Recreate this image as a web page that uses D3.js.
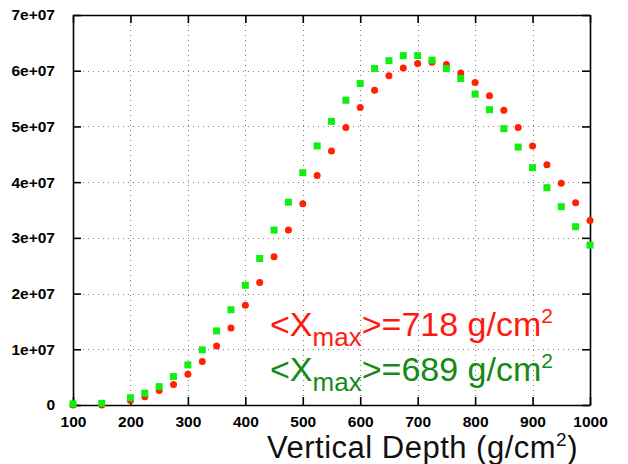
<!DOCTYPE html>
<html>
<head>
<meta charset="utf-8">
<script src="https://cdn.jsdelivr.net/npm/d3@7"></script>
<style>
  html, body { margin: 0; padding: 0; background: #fff; }
  svg { display: block; }
</style>
</head>
<body>
<svg id="chart" width="628" height="464"></svg>
<script>
// ---- data ----
const depths = [100, 150, 200, 225, 250, 275, 300, 325, 350, 375, 400, 425, 450, 475, 500,
  525, 550, 575, 600, 625, 650, 675, 700, 725, 750, 775, 800, 825, 850, 875, 900, 925, 950, 975, 1000];
const redValues = [0, 0, 0.8e6, 1.5e6, 2.6e6, 3.7e6, 5.5e6, 7.8e6, 10.6e6, 13.8e6, 17.9e6, 22.0e6, 26.6e6, 31.4e6, 36.1e6,
  41.2e6, 45.6e6, 49.8e6, 53.4e6, 56.5e6, 59.1e6, 60.5e6, 61.3e6, 61.5e6, 61.1e6, 59.6e6, 57.9e6, 55.5e6, 52.9e6, 49.8e6, 46.5e6, 43.1e6, 39.8e6, 36.3e6, 33.1e6];
const greenValues = [0.2e6, 0.3e6, 1.3e6, 2.1e6, 3.3e6, 5.1e6, 7.2e6, 9.9e6, 13.3e6, 17.1e6, 21.5e6, 26.3e6, 31.4e6, 36.4e6, 41.7e6,
  46.5e6, 50.9e6, 54.7e6, 57.7e6, 60.4e6, 61.8e6, 62.7e6, 62.7e6, 61.9e6, 60.4e6, 58.6e6, 55.8e6, 53.0e6, 49.6e6, 46.3e6, 42.6e6, 39.0e6, 35.6e6, 32.0e6, 28.7e6];
const xTicks = [100, 200, 300, 400, 500, 600, 700, 800, 900, 1000];
const yTicks = [0, 1e7, 2e7, 3e7, 4e7, 5e7, 6e7, 7e7];
const yTickLabels = ["0", "1e+07", "2e+07", "3e+07", "4e+07", "5e+07", "6e+07", "7e+07"];
const redLabel = {pre: "<X", sub: "max", post: ">=718 g/cm", sup: "2"};
const greenLabel = {pre: "<X", sub: "max", post: ">=689 g/cm", sup: "2"};
const xTitle = {main: "Vertical Depth (g/cm", sup: "2", end: ")"};

// ---- layout ----
const svg = d3.select("#chart");
const L = 73, R = 590, T = 15, B = 405;
const x = d3.scaleLinear().domain([100, 1000]).range([L, R]);
const y = d3.scaleLinear().domain([0, 7e7]).range([B, T]);
const font = "'Liberation Sans', Arial, Helvetica, sans-serif";

// grid
const grid = svg.append("g").attr("stroke", "#808080").attr("stroke-width", 1).attr("stroke-dasharray", "1,4");
grid.selectAll("line.gx").data(xTicks.slice(1, -1)).join("line")
  .attr("x1", d => Math.round(x(d)) + 0.5).attr("x2", d => Math.round(x(d)) + 0.5)
  .attr("y1", T).attr("y2", B);
grid.selectAll("line.gy").data(yTicks.slice(1, -1)).join("line")
  .attr("x1", L).attr("x2", R)
  .attr("y1", d => Math.round(y(d)) + 0.5).attr("y2", d => Math.round(y(d)) + 0.5);

// axes (inward ticks, mirrored)
const tk = 8;
const axB = svg.append("g").attr("transform", `translate(0,${B})`)
  .call(d3.axisBottom(x).tickValues(xTicks).tickSizeInner(-tk).tickSizeOuter(0).tickPadding(11).tickFormat(d3.format("d")));
const axT = svg.append("g").attr("transform", `translate(0,${T})`)
  .call(d3.axisTop(x).tickValues(xTicks).tickSizeInner(-tk).tickSizeOuter(0).tickFormat(""));
const axL = svg.append("g").attr("transform", `translate(${L},0)`)
  .call(d3.axisLeft(y).tickValues(yTicks).tickSizeInner(-tk).tickSizeOuter(0).tickPadding(18).tickFormat((d, i) => yTickLabels[i]));
const axR = svg.append("g").attr("transform", `translate(${R},0)`)
  .call(d3.axisRight(y).tickValues(yTicks).tickSizeInner(-tk).tickSizeOuter(0).tickFormat(""));
[axB, axT, axL, axR].forEach(a => {
  a.select(".domain").attr("stroke", "#000").attr("stroke-width", 1.6);
  a.selectAll(".tick line").attr("stroke", "#000").attr("stroke-width", 1.6);
  a.selectAll(".tick text").attr("fill", "#000").style("font-family", font)
    .style("font-size", "15.5px").style("font-weight", "bold");
});
axB.selectAll(".tick text").attr("dy", "0.71em");

// points: red circles then green squares
const pts = depths.map((d, i) => ({d, r: redValues[i], g: greenValues[i]}));
svg.append("g").selectAll("circle").data(pts).join("circle")
  .attr("cx", p => x(p.d)).attr("cy", p => y(p.r)).attr("r", 3.5)
  .attr("fill", "#ff2200");
const s = 7;
svg.append("g").selectAll("rect").data(pts).join("rect")
  .attr("x", p => x(p.d) - s / 2).attr("y", p => y(p.g) - s / 2)
  .attr("width", s).attr("height", s).attr("fill", "#11ee11");

// annotation labels
function label(cfg, bx, by, color) {
  const t = svg.append("text").attr("x", bx).attr("y", by).attr("fill", color)
    .style("font-family", font).style("font-size", "34px");
  t.append("tspan").text(cfg.pre);
  t.append("tspan").attr("dy", 10).style("font-size", "26px").text(cfg.sub);
  t.append("tspan").attr("dy", -10).text(cfg.post);
  t.append("tspan").attr("dy", -13).style("font-size", "21px").text(cfg.sup);
}
label(redLabel, 270, 336, "#ff1a10");
label(greenLabel, 270, 381, "#158a15");

// x axis title
const xt = svg.append("text").attr("x", 267).attr("y", 458).attr("fill", "#111")
  .style("font-family", font).style("font-size", "31px").style("letter-spacing", "0.5px");
xt.append("tspan").text(xTitle.main);
xt.append("tspan").attr("dy", -12).style("font-size", "19px").text(xTitle.sup);
xt.append("tspan").attr("dy", 12).text(xTitle.end);
</script>
</body>
</html>
